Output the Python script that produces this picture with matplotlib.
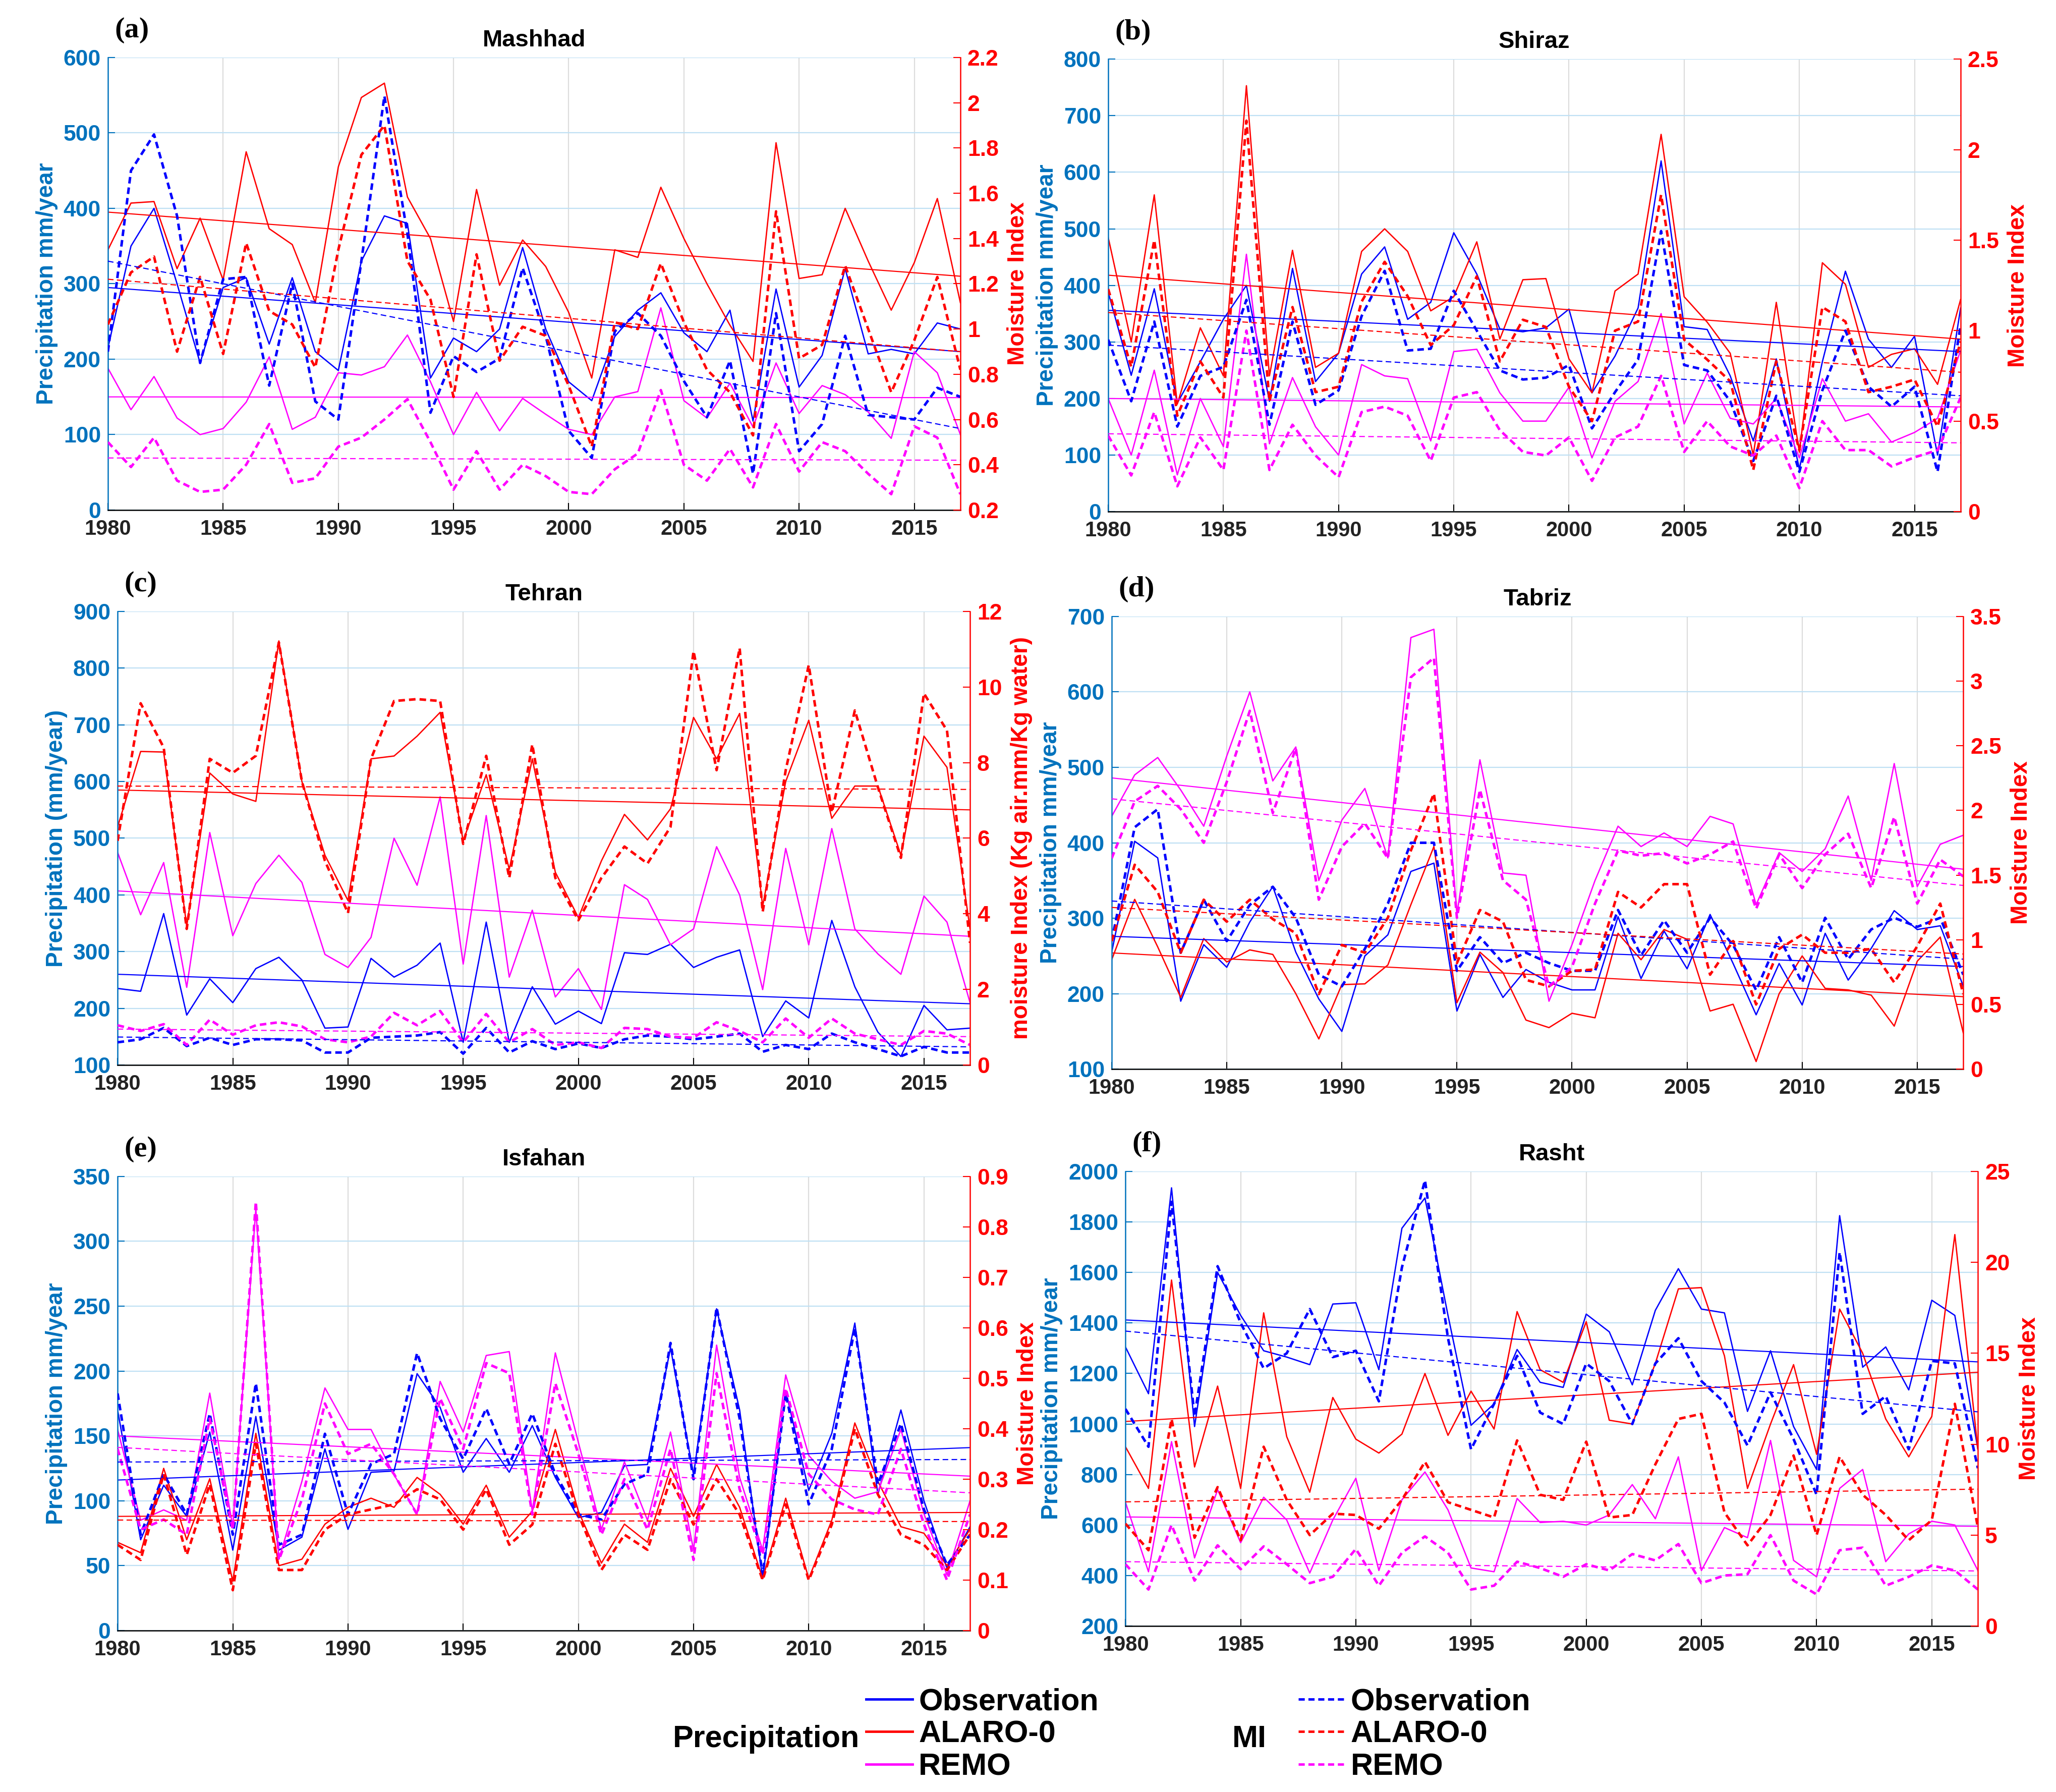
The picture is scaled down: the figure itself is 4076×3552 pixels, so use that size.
import numpy as np
import matplotlib
matplotlib.use("Agg")
import matplotlib.pyplot as plt
from matplotlib.lines import Line2D
from matplotlib.ticker import FuncFormatter

years = np.arange(1980, 2018)

# ---------------- Mashhad ----------------
mashhad_obs_p = [215, 350, 400, 300, 195, 295, 308, 220, 308, 210, 185, 330, 390, 380, 175, 228, 210, 240, 348, 240,
                 170, 145, 230, 265, 288, 235, 210, 265, 118, 293, 163, 205, 320, 207, 213, 207, 248, 240]
mashhad_alaro_p = [345, 407, 409, 320, 387, 305, 475, 373, 352, 275, 455, 547, 566, 415, 360, 250, 425, 298, 358, 323,
                   262, 175, 345, 335, 428, 360, 300, 245, 197, 487, 307, 312, 400, 330, 265, 328, 413, 275]
mashhad_remo_p = [188, 133, 177, 122, 100, 108, 143, 203, 107, 123, 182, 179, 190, 232, 170, 100, 156, 105, 148, 127,
                  107, 100, 150, 157, 268, 145, 122, 168, 110, 195, 128, 165, 153, 130, 95, 210, 182, 100]
mashhad_obs_mi = [0.90, 1.70, 1.86, 1.50, 0.85, 1.22, 1.23, 0.75, 1.20, 0.68, 0.60, 1.30, 2.03, 1.42, 0.63, 0.88, 0.81,
                  0.87, 1.27, 0.97, 0.55, 0.43, 0.99, 1.07, 0.97, 0.77, 0.61, 0.86, 0.36, 1.07, 0.46, 0.58, 0.97, 0.62,
                  0.61, 0.60, 0.74, 0.70]
mashhad_alaro_mi = [1.02, 1.25, 1.32, 0.90, 1.23, 0.89, 1.38, 1.08, 1.02, 0.83, 1.35, 1.77, 1.90, 1.30, 1.13, 0.70, 1.33,
                    0.86, 1.01, 0.97, 0.75, 0.48, 1.03, 1.00, 1.29, 1.03, 0.82, 0.72, 0.53, 1.52, 0.87, 0.93, 1.28, 1.00,
                    0.72, 0.95, 1.23, 0.82]
mashhad_remo_mi = [0.50, 0.39, 0.52, 0.33, 0.28, 0.29, 0.40, 0.58, 0.32, 0.34, 0.48, 0.52, 0.60, 0.69, 0.50, 0.29, 0.46,
                   0.29, 0.40, 0.35, 0.28, 0.27, 0.38, 0.45, 0.73, 0.40, 0.33, 0.47, 0.30, 0.58, 0.37, 0.50, 0.46, 0.36,
                   0.27, 0.57, 0.52, 0.27]
mashhad_p_trend = [[295, 210], [395, 310], [150, 149]]
mashhad_mi_trend = [[1.30, 0.56], [1.22, 0.90], [0.43, 0.42]]

# ---------------- Shiraz ----------------
shiraz_obs_p = [388, 241, 394, 192, 265, 340, 400, 195, 430, 230, 280, 420, 468, 340, 370, 493, 420, 323, 318, 325,
                358, 210, 275, 360, 620, 327, 322, 240, 125, 270, 75, 265, 425, 305, 255, 310, 100, 360]
shiraz_alaro_p = [485, 300, 560, 190, 325, 240, 753, 240, 462, 255, 280, 460, 500, 460, 355, 380, 477, 305, 410, 412,
                  270, 210, 390, 420, 667, 380, 335, 280, 100, 370, 105, 440, 402, 255, 278, 288, 225, 375]
shiraz_remo_p = [200, 100, 250, 65, 200, 115, 455, 120, 237, 150, 100, 260, 240, 235, 125, 283, 287, 210, 160, 160,
                 220, 95, 195, 230, 350, 155, 245, 165, 155, 200, 95, 235, 160, 173, 123, 140, 165, 285]
shiraz_obs_mi = [0.95, 0.61, 1.05, 0.47, 0.75, 0.80, 1.17, 0.48, 1.05, 0.59, 0.67, 1.08, 1.33, 0.89, 0.90, 1.22, 1.00,
                 0.78, 0.73, 0.74, 0.81, 0.46, 0.66, 0.84, 1.55, 0.81, 0.78, 0.61, 0.28, 0.64, 0.22, 0.67, 1.00, 0.69,
                 0.58, 0.69, 0.22, 1.03]
shiraz_alaro_mi = [1.23, 0.80, 1.50, 0.53, 0.83, 0.63, 2.16, 0.61, 1.13, 0.66, 0.69, 1.16, 1.38, 1.19, 0.92, 1.03, 1.30,
                   0.83, 1.06, 1.02, 0.69, 0.50, 1.00, 1.05, 1.75, 0.95, 0.84, 0.72, 0.23, 0.83, 0.34, 1.13, 1.05, 0.66,
                   0.69, 0.73, 0.47, 0.94]
shiraz_remo_mi = [0.42, 0.20, 0.55, 0.14, 0.41, 0.23, 1.00, 0.23, 0.48, 0.31, 0.19, 0.55, 0.58, 0.53, 0.28, 0.63, 0.66,
                  0.45, 0.33, 0.31, 0.41, 0.17, 0.41, 0.47, 0.75, 0.33, 0.50, 0.36, 0.31, 0.42, 0.13, 0.50, 0.34, 0.34,
                  0.25, 0.30, 0.34, 0.63]
shiraz_p_trend = [[356, 283], [418, 305], [200, 185]]
shiraz_mi_trend = [[0.92, 0.64], [1.10, 0.77], [0.43, 0.38]]

# ---------------- Tehran ----------------
tehran_obs_p = [235, 230, 367, 188, 252, 210, 270, 290, 250, 165, 167, 288, 255, 276, 315, 140, 352, 140, 238, 172,
                195, 173, 298, 295, 313, 272, 290, 303, 150, 213, 183, 355, 238, 158, 115, 205, 162, 165]
tehran_alaro_p = [520, 653, 652, 345, 615, 578, 565, 848, 600, 470, 390, 640, 645, 680, 722, 495, 612, 445, 640, 440,
                  360, 460, 542, 497, 552, 713, 640, 720, 380, 600, 708, 535, 592, 592, 470, 680, 625, 340]
tehran_remo_p = [475, 365, 457, 237, 510, 328, 420, 470, 422, 295, 272, 325, 500, 417, 573, 278, 540, 255, 373, 220,
                 270, 198, 418, 392, 312, 340, 485, 400, 233, 482, 312, 517, 340, 296, 260, 398, 352, 210]
tehran_obs_mi = [0.60, 0.68, 0.98, 0.50, 0.72, 0.53, 0.68, 0.68, 0.65, 0.33, 0.33, 0.72, 0.75, 0.78, 0.87, 0.30, 0.98,
                 0.33, 0.63, 0.42, 0.57, 0.45, 0.68, 0.78, 0.75, 0.68, 0.75, 0.83, 0.35, 0.53, 0.42, 0.83, 0.60, 0.42,
                 0.23, 0.48, 0.33, 0.33]
tehran_alaro_mi = [5.93, 9.57, 8.40, 3.60, 8.10, 7.73, 8.18, 11.18, 7.50, 5.40, 4.02, 8.10, 9.63, 9.68, 9.63, 5.85, 8.18,
                   4.95, 8.48, 4.95, 3.83, 4.95, 5.78, 5.33, 6.30, 10.95, 7.80, 11.03, 4.05, 7.80, 10.58, 6.68, 9.38,
                   7.35, 5.48, 9.83, 8.85, 3.23]
tehran_remo_mi = [1.05, 0.90, 1.08, 0.53, 1.20, 0.80, 1.05, 1.13, 1.02, 0.68, 0.60, 0.75, 1.38, 1.05, 1.43, 0.60, 1.35,
                  0.60, 0.95, 0.53, 0.60, 0.45, 0.98, 0.95, 0.75, 0.72, 1.13, 0.90, 0.60, 1.23, 0.72, 1.23, 0.83, 0.68,
                  0.53, 0.90, 0.83, 0.53]
tehran_p_trend = [[260, 208], [585, 550], [407, 327]]
tehran_mi_trend = [[0.74, 0.48], [7.38, 7.29], [0.95, 0.75]]

# ---------------- Tabriz ----------------
tabriz_obs_p = [255, 402, 380, 190, 265, 235, 295, 342, 255, 193, 150, 250, 278, 362, 373, 177, 252, 195, 232, 215,
                205, 205, 302, 220, 283, 233, 305, 240, 172, 240, 185, 280, 218, 260, 310, 285, 290, 210]
tabriz_alaro_p = [245, 325, 262, 195, 273, 242, 258, 252, 200, 140, 212, 213, 238, 318, 395, 188, 255, 228, 165, 155,
                  174, 168, 280, 245, 285, 272, 177, 186, 110, 200, 250, 207, 205, 198, 157, 243, 275, 148]
tabriz_remo_p = [435, 490, 513, 470, 422, 515, 600, 482, 527, 350, 430, 472, 380, 672, 683, 305, 510, 360, 357, 190,
                 265, 350, 422, 395, 413, 395, 435, 425, 318, 387, 362, 392, 462, 350, 505, 342, 398, 410]
tabriz_obs_mi = [0.99, 1.87, 2.01, 0.90, 1.31, 0.99, 1.27, 1.41, 1.17, 0.73, 0.64, 0.93, 1.28, 1.75, 1.75, 0.76, 1.02,
                 0.82, 0.90, 0.82, 0.76, 0.76, 1.23, 0.88, 1.15, 0.90, 1.17, 0.96, 0.61, 1.02, 0.67, 1.17, 0.85, 1.08,
                 1.17, 1.10, 1.17, 0.73]
tabriz_alaro_mi = [0.99, 1.58, 1.37, 0.90, 1.31, 1.14, 1.31, 1.16, 1.05, 0.58, 0.96, 0.90, 1.17, 1.69, 2.13, 0.82, 1.23,
                   1.14, 0.69, 0.64, 0.76, 0.77, 1.37, 1.25, 1.43, 1.43, 0.73, 0.99, 0.50, 0.93, 1.04, 0.90, 0.90, 0.93,
                   0.67, 0.95, 1.28, 0.58]
tabriz_remo_mi = [1.63, 2.07, 2.19, 2.01, 1.75, 2.22, 2.77, 1.98, 2.48, 1.31, 1.72, 1.90, 1.63, 3.03, 3.18, 1.17, 2.16,
                  1.46, 1.31, 0.64, 0.79, 1.28, 1.69, 1.65, 1.67, 1.59, 1.66, 1.76, 1.24, 1.66, 1.40, 1.66, 1.82, 1.40,
                  1.95, 1.28, 1.62, 1.49]
tabriz_p_trend = [[276, 236], [254, 196], [486, 365]]
tabriz_mi_trend = [[1.30, 0.85], [1.25, 0.89], [2.09, 1.42]]

# ---------------- Isfahan ----------------
isfahan_obs_p = [170, 70, 112, 88, 153, 62, 165, 62, 72, 140, 78, 122, 123, 198, 172, 122, 148, 122, 158, 118,
                 87, 91, 127, 128, 218, 120, 248, 170, 40, 185, 108, 152, 237, 105, 170, 100, 48, 80]
isfahan_alaro_p = [68, 60, 125, 70, 117, 38, 152, 50, 55, 82, 95, 102, 95, 118, 105, 82, 112, 72, 92, 155,
                   92, 52, 82, 68, 125, 88, 128, 95, 40, 102, 40, 85, 160, 115, 80, 75, 50, 78]
isfahan_remo_p = [155, 85, 93, 85, 183, 80, 325, 55, 115, 187, 155, 155, 120, 90, 192, 153, 212, 215, 92, 214,
                  145, 78, 130, 85, 153, 62, 220, 118, 62, 197, 135, 115, 102, 107, 155, 90, 43, 100]
isfahan_obs_mi = [0.47, 0.19, 0.31, 0.23, 0.43, 0.19, 0.49, 0.17, 0.19, 0.39, 0.23, 0.33, 0.35, 0.55, 0.42, 0.34, 0.44,
                  0.33, 0.43, 0.31, 0.23, 0.22, 0.29, 0.31, 0.57, 0.30, 0.64, 0.42, 0.11, 0.47, 0.25, 0.36, 0.60, 0.29,
                  0.41, 0.24, 0.13, 0.19]
isfahan_alaro_mi = [0.17, 0.14, 0.31, 0.15, 0.29, 0.08, 0.37, 0.12, 0.12, 0.20, 0.23, 0.24, 0.25, 0.28, 0.26, 0.20,
                    0.28, 0.17, 0.21, 0.37, 0.23, 0.12, 0.19, 0.16, 0.30, 0.21, 0.30, 0.23, 0.10, 0.25, 0.10, 0.21,
                    0.40, 0.27, 0.19, 0.17, 0.12, 0.19]
isfahan_remo_mi = [0.36, 0.20, 0.22, 0.19, 0.42, 0.20, 0.85, 0.14, 0.26, 0.45, 0.35, 0.37, 0.31, 0.23, 0.46, 0.36, 0.53,
                   0.51, 0.23, 0.49, 0.35, 0.19, 0.30, 0.20, 0.36, 0.14, 0.51, 0.28, 0.15, 0.48, 0.31, 0.26, 0.24, 0.23,
                   0.36, 0.21, 0.10, 0.23]
isfahan_p_trend = [[116, 141], [88, 91], [150, 119]]
isfahan_mi_trend = [[0.334, 0.339], [0.219, 0.216], [0.363, 0.273]]

# ---------------- Rasht ----------------
rasht_obs_p = [1305, 1120, 1935, 990, 1600, 1430, 1290, 1265, 1235, 1475, 1480, 1215, 1775, 1895, 1430, 995, 1080,
               1295, 1165, 1145, 1435, 1365, 1155, 1450, 1615, 1455, 1440, 1050, 1290, 990, 820, 1825, 1225, 1305,
               1135, 1490, 1430, 900]
rasht_alaro_p = [910, 745, 1570, 830, 1150, 745, 1440, 950, 730, 1105, 940, 885, 960, 1200, 955, 1130, 980, 1445,
                 1215, 1165, 1405, 1015, 1000, 1240, 1535, 1540, 1270, 745, 1000, 1235, 880, 1455, 1280, 1020, 870,
                 1030, 1750, 900]
rasht_remo_p = [690, 415, 930, 470, 740, 530, 710, 620, 410, 620, 785, 420, 700, 810, 660, 430, 415, 705, 610, 615,
                600, 640, 760, 625, 870, 420, 590, 550, 935, 460, 395, 745, 820, 455, 565, 615, 600, 420]
rasht_obs_mi = [11.94, 9.86, 23.33, 11.53, 19.79, 16.67, 14.17, 15.00, 17.43, 14.79, 15.14, 12.36, 19.72, 24.51, 15.83,
                9.72, 12.22, 14.86, 11.74, 11.11, 14.44, 13.47, 11.11, 14.44, 15.83, 13.47, 12.29, 9.93, 12.85, 10.28,
                7.22, 20.56, 11.67, 12.64, 9.72, 14.58, 14.44, 8.68]
rasht_alaro_mi = [5.63, 4.17, 11.39, 4.86, 7.64, 4.72, 9.86, 6.94, 5.00, 6.18, 6.11, 5.35, 6.94, 9.03, 6.81, 6.39, 5.97,
                  10.21, 7.22, 6.94, 10.14, 5.97, 6.11, 8.89, 11.39, 11.67, 6.25, 4.44, 6.11, 9.38, 5.00, 9.31, 7.22,
                  6.11, 4.72, 5.83, 12.22, 5.42]
rasht_remo_mi = [3.40, 2.01, 5.56, 2.50, 4.44, 3.13, 4.38, 3.40, 2.36, 2.71, 4.24, 2.22, 4.03, 4.93, 4.03, 2.01, 2.22,
                 3.54, 3.19, 2.71, 3.40, 3.06, 3.96, 3.61, 4.51, 2.36, 2.78, 2.85, 5.00, 2.50, 1.74, 4.17, 4.31, 2.22,
                 2.71, 3.33, 3.06, 2.01]
rasht_p_trend = [[1412, 1246], [1010, 1205], [632, 595]]
rasht_mi_trend = [[16.22, 11.78], [6.83, 7.53], [3.54, 3.03]]

series_names = ["Observation", "ALARO-0", "REMO"]
colors = ["#0000FF", "#FF0000", "#FF00FF"]
axis_blue = "#0072BD"

plt.rcParams["font.family"] = ["Liberation Sans", "DejaVu Sans"]

fig = plt.figure(figsize=(40.76, 35.52), dpi=100)
fmt = FuncFormatter(lambda v, p: f"{v:g}")


def draw_panel(rect, name, letter, precip, mi, p_trend, mi_trend,
               p_lim, p_step, mi_lim, mi_step, p_label, mi_label):
    ax = fig.add_axes(rect)
    ax2 = ax.twinx()

    for vals, c in zip(precip, colors):
        ax.plot(years, vals, color=c, lw=1.9)
    for tr, c in zip(p_trend, colors):
        ax.plot([years[0], years[-1]], tr, color=c, lw=1.6)
    for vals, c in zip(mi, colors):
        ax2.plot(years, vals, color=c, lw=3.6, ls=(0, (2.6, 1.6)))
    for tr, c in zip(mi_trend, colors):
        ax2.plot([years[0], years[-1]], tr, color=c, lw=1.6, ls=(0, (5, 3)))

    ax.set_xlim(1980, 2017)
    ax.set_xticks(np.arange(1980, 2016, 5))
    ax.set_ylim(*p_lim)
    ax.set_yticks(np.arange(p_lim[0], p_lim[1] + p_step / 2, p_step))
    ax2.set_ylim(*mi_lim)
    ax2.set_yticks(np.arange(mi_lim[0], mi_lim[1] + mi_step / 2, mi_step))
    ax.yaxis.set_major_formatter(fmt)
    ax2.yaxis.set_major_formatter(fmt)

    ax.yaxis.grid(True, color="#BFE0F4", lw=1.6)
    ax.xaxis.grid(True, color="#DCDCDC", lw=1.6)
    ax.set_axisbelow(True)

    for a in (ax, ax2):
        a.spines["top"].set_visible(False)
    ax.spines["right"].set_visible(False)
    ax2.spines["left"].set_visible(False)
    ax2.spines["bottom"].set_visible(False)
    ax.spines["left"].set_color(axis_blue)
    ax2.spines["right"].set_color("#FF0000")
    for s in (ax.spines["left"], ax.spines["bottom"], ax2.spines["right"]):
        s.set_linewidth(1.8)

    ax.tick_params(axis="x", direction="in", length=10, width=1.5, labelsize=30,
                   pad=13, labelcolor="#222222")
    ax.tick_params(axis="y", direction="in", length=10, width=1.5, labelsize=32,
                   colors=axis_blue, pad=10)
    ax2.tick_params(axis="y", direction="in", length=10, width=1.5, labelsize=32,
                    colors="#FF0000", pad=10)
    for lab in ax.get_xticklabels() + ax.get_yticklabels() + ax2.get_yticklabels():
        lab.set_fontweight("bold")

    ax.set_ylabel(p_label, color=axis_blue, fontsize=33, fontweight="bold", labelpad=8)
    ax2.set_ylabel(mi_label, color="#FF0000", fontsize=33, fontweight="bold",
                   rotation=90, labelpad=12)
    ax.set_title(name, fontsize=34, fontweight="bold", pad=16)
    ax.text(0.008, 1.06, letter, transform=ax.transAxes, fontsize=42,
            fontweight="bold", family=["Liberation Serif", "DejaVu Serif"],
            ha="left", va="center")
    return ax, ax2


draw_panel([0.0525, 0.7154, 0.4146, 0.2525], "Mashhad", "(a)",
           [mashhad_obs_p, mashhad_alaro_p, mashhad_remo_p],
           [mashhad_obs_mi, mashhad_alaro_mi, mashhad_remo_mi],
           mashhad_p_trend, mashhad_mi_trend,
           (0, 600), 100, (0.2, 2.2), 0.2,
           "Precipitation mm/year", "Moisture Index")

draw_panel([0.5390, 0.7145, 0.4146, 0.2525], "Shiraz", "(b)",
           [shiraz_obs_p, shiraz_alaro_p, shiraz_remo_p],
           [shiraz_obs_mi, shiraz_alaro_mi, shiraz_remo_mi],
           shiraz_p_trend, shiraz_mi_trend,
           (0, 800), 100, (0, 2.5), 0.5,
           "Precipitation mm/year", "Moisture Index")

draw_panel([0.0572, 0.4057, 0.4146, 0.2531], "Tehran", "(c)",
           [tehran_obs_p, tehran_alaro_p, tehran_remo_p],
           [tehran_obs_mi, tehran_alaro_mi, tehran_remo_mi],
           tehran_p_trend, tehran_mi_trend,
           (100, 900), 100, (0, 12), 2,
           "Precipitation (mm/year)", "moisture Index (Kg air.mm/Kg water)")

draw_panel([0.5407, 0.4034, 0.4142, 0.2526], "Tabriz", "(d)",
           [tabriz_obs_p, tabriz_alaro_p, tabriz_remo_p],
           [tabriz_obs_mi, tabriz_alaro_mi, tabriz_remo_mi],
           tabriz_p_trend, tabriz_mi_trend,
           (100, 700), 100, (0, 3.5), 0.5,
           "Precipitation mm/year", "Moisture Index")

draw_panel([0.0572, 0.0901, 0.4146, 0.2534], "Isfahan", "(e)",
           [isfahan_obs_p, isfahan_alaro_p, isfahan_remo_p],
           [isfahan_obs_mi, isfahan_alaro_mi, isfahan_remo_mi],
           isfahan_p_trend, isfahan_mi_trend,
           (0, 350), 50, (0, 0.9), 0.1,
           "Precipitation mm/year", "Moisture Index")

draw_panel([0.5474, 0.0926, 0.4146, 0.2537], "Rasht", "(f)",
           [rasht_obs_p, rasht_alaro_p, rasht_remo_p],
           [rasht_obs_mi, rasht_alaro_mi, rasht_remo_mi],
           rasht_p_trend, rasht_mi_trend,
           (200, 2000), 200, (0, 25), 5,
           "Precipitation mm/year", "Moisture Index")

# legend at the bottom
solid_handles = [Line2D([], [], color=c, lw=3.5) for c in colors]
dashed_handles = [Line2D([], [], color=c, lw=3.5, ls=(0, (2.5, 1.5))) for c in colors]
leg_font = {"weight": "bold", "size": 44}
fig.legend(solid_handles, series_names, loc="center left",
           bbox_to_anchor=(0.4213, 0.032), frameon=False, prop=leg_font,
           handlelength=1.5, handletextpad=0.2, labelspacing=0.12,
           borderpad=0, borderaxespad=0)
fig.legend(dashed_handles, series_names, loc="center left",
           bbox_to_anchor=(0.6315, 0.032), frameon=False, prop=leg_font,
           handlelength=1.5, handletextpad=0.2, labelspacing=0.12,
           borderpad=0, borderaxespad=0)
fig.text(0.418, 0.0295, "Precipitation", ha="right", va="center", **leg_font)
fig.text(0.5994, 0.0295, "MI", ha="left", va="center", **leg_font)

fig.savefig("out.png", dpi=100)
